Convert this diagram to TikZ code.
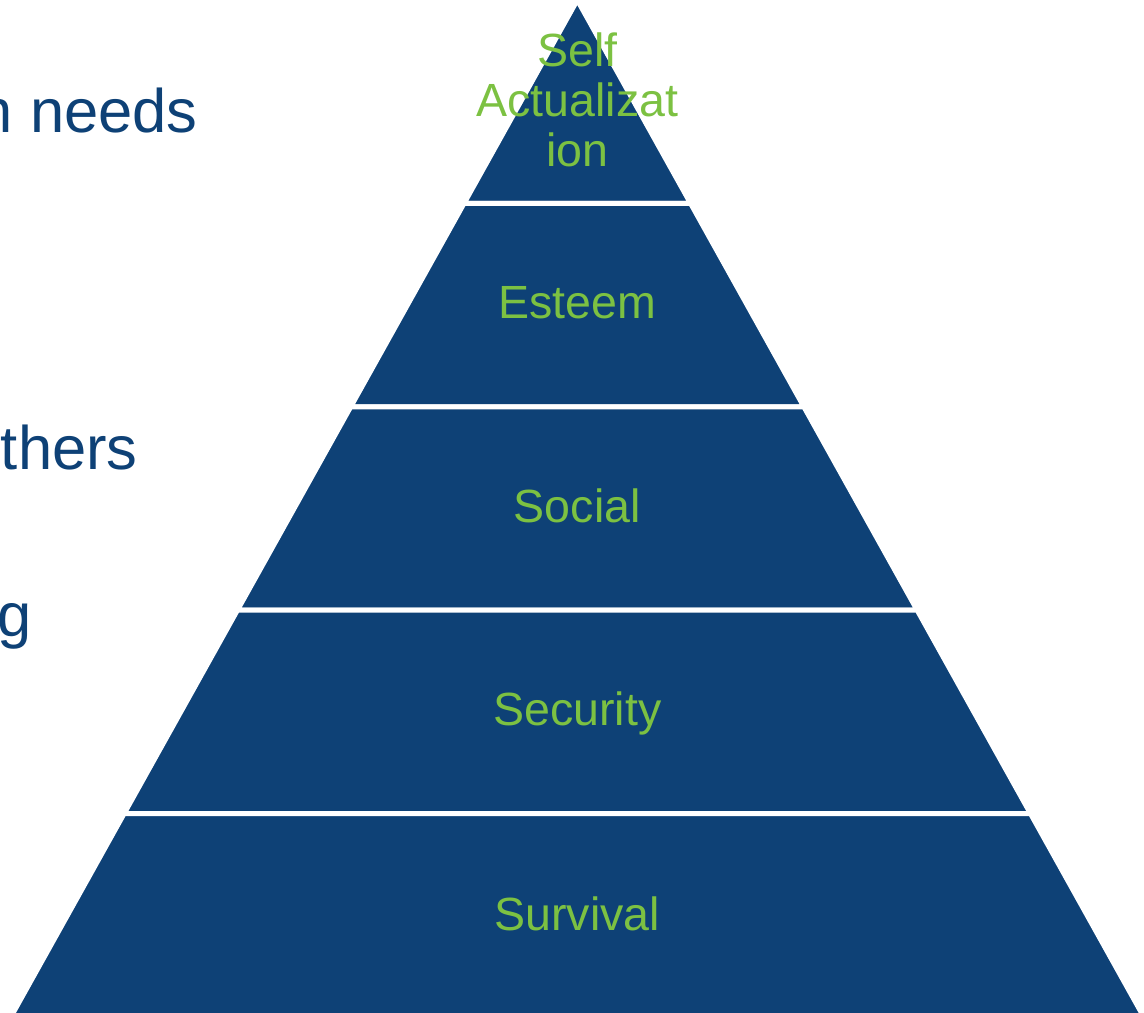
\documentclass[tikz,border=0pt]{standalone}
\usepackage{fontspec}
\setmainfont{Liberation Sans}
\usetikzlibrary{positioning}
\definecolor{pyrblue}{RGB}{14,65,118}
\definecolor{pyrgreen}{RGB}{124,193,66}
\tikzset{layer/.style={fill=pyrblue,draw=white,line width=0.1cm,line join=miter},
         lab/.style={pyrgreen,inner sep=0pt,font=\fontsize{26.5}{28.5}\selectfont},
         side/.style={pyrblue,inner sep=0pt,anchor=base east,font=\fontsize{35}{42}\selectfont}}

\begin{document}
\begin{tikzpicture}[x=0.02cm,y=-0.02cm]
   \useasboundingbox (0,0) rectangle (1144,1013);
   % text of the slide, cut at the left edge
   \node[side] (needs) at (198,133) {n needs};
   \node[side] (others) at (138,470) {thers};
   \node[side] (ing) at (32,637) {g};
   % the five layers
   \draw[layer] (577.3,0) -- (690.6,203.4) -- (464.0,203.4) -- cycle;
   \draw[layer] (464.0,203.4) -- (690.6,203.4) -- (803.9,406.8) -- (350.7,406.8) -- cycle;
   \draw[layer] (350.7,406.8) -- (803.9,406.8) -- (917.2,610.2) -- (237.4,610.2) -- cycle;
   \draw[layer] (237.4,610.2) -- (917.2,610.2) -- (1030.5,813.6) -- (124.1,813.6) -- cycle;
   \draw[layer] (124.1,813.6) -- (1030.5,813.6) -- (1143.8,1017) -- (10.8,1017) -- cycle;
   % labels
   \node[lab,align=center] (self) at (577.3,99.5) {Self\\Actualizat\\ion};
   \node[lab,anchor=base] (esteem) at (577.3,319) {Esteem};
   \node[lab,anchor=base] (social) at (577.3,523) {Social};
   \node[lab,anchor=base] (security) at (577.3,726) {Security};
   \node[lab,anchor=base] (survival) at (577.3,930) {Survival};
\end{tikzpicture}
\end{document}
